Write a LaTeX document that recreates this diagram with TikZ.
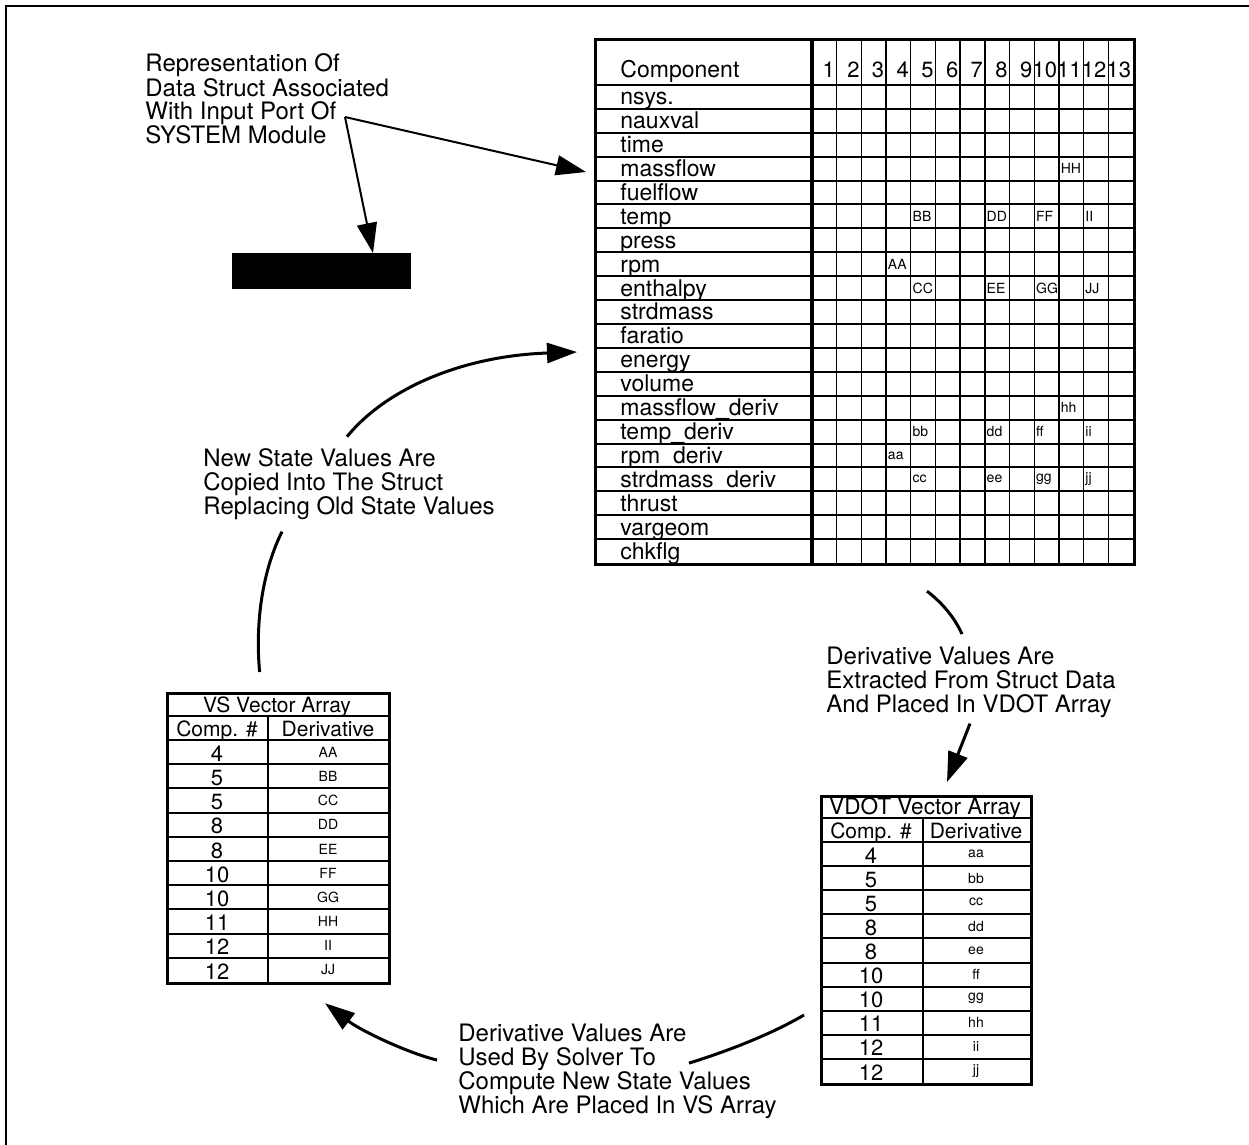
\documentclass[tikz,border=0pt]{standalone}
\usepackage{fontspec}
\setmainfont{TeX Gyre Heros}
\usetikzlibrary{arrows.meta, positioning, calc}
\tikzstyle{note} = [align=left, anchor=base west, inner sep=0pt, font=\fontsize{12}{12}\selectfont]
\tikzstyle{bigcell} = [inner sep=0pt, font=\fontsize{11.5}{12}\selectfont]
\tikzstyle{numcell} = [inner sep=0pt, anchor=base, font=\fontsize{11}{12}\selectfont]
\tikzstyle{headcell} = [inner sep=0pt, anchor=base, font=\fontsize{10.5}{12}\selectfont]
\tikzstyle{smallcell} = [inner sep=0pt, font=\fontsize{7}{8}\selectfont]
\tikzstyle{tableframe} = [rectangle, draw=black, line width=1.6pt, inner sep=0pt, anchor=north west]
\tikzstyle{rule} = [line width=1pt]
\tikzstyle{thinrule} = [line width=0.7pt]
\tikzstyle{arrow} = [line width=1pt, -{Triangle[length=15pt, width=10pt]}]
\tikzstyle{sweep} = [line width=1.5pt]
\tikzstyle{sweeparrow} = [line width=1.5pt, -{Triangle[length=15pt, width=10pt]}]

\begin{document}
\begin{tikzpicture}[x=0.5pt, y=-0.5pt]
\useasboundingbox (0,0) rectangle (1249,1145);

% Frame
\draw [line width=1pt] (6,1145) -- (6,6) -- (1249,6);

% Struct table
\node (struct) [tableframe, minimum width=269.5pt, minimum height=262.5pt] at (594,38) {};
\draw [line width=1.6pt] (812,38) -- (812,563);
\foreach \k in {1,...,12}
  \draw [thinrule] ({812+24.69*\k},38) -- ({812+24.69*\k},563);
\foreach \j in {0,...,19}
  \draw [rule] (594,{85+23.9*\j}) -- (1133,{85+23.9*\j});
\node (comphead) [bigcell, anchor=base west] at (620,78) {Component};
\foreach \k in {1,...,13}
  \node (col\k) [numcell, anchor=base east] at ({812+24.69*\k-1.5},78) {\k};
\foreach \lab [count=\j] in {nsys., nauxval, time, massflow, fuelflow, temp, press, rpm, enthalpy, strdmass, faratio, energy, volume, massflow\_deriv, temp\_deriv, rpm\_deriv, strdmass\_deriv, thrust, vargeom, chkflg}
  \node (row\j) [bigcell, anchor=base west] at (620,{81+23.9*\j}) {\lab};
\foreach \c/\r/\v in {11/4/HH, 5/6/BB, 8/6/DD, 10/6/FF, 12/6/II, 4/8/AA, 5/9/CC, 8/9/EE, 10/9/GG, 12/9/JJ, 11/14/hh, 5/15/bb, 8/15/dd, 10/15/ff, 12/15/ii, 4/16/aa, 5/17/cc, 8/17/ee, 10/17/gg, 12/17/jj}
  \node (cell\c-\r) [smallcell, anchor=west] at ({813.5+24.69*(\c-1)},{73+23.9*\r}) {\v};

% Port bar
\node (sysport) [fill=black, inner sep=0pt, minimum width=89.5pt, minimum height=18pt, anchor=north west] at (232,253) {};

% VS table
\node (vsarray) [tableframe, minimum width=111pt, minimum height=145pt] at (166,692) {};
\draw [rule] (166,716) -- (388,716);
\foreach \i in {0,...,9}
  \draw [rule] (166,{740+24.2*\i}) -- (388,{740+24.2*\i});
\draw [rule] (268,716) -- (268,982);
\node (vstitle) [headcell] at (277,712) {VS Vector Array};
\node (vscomp) [headcell] at (217,736) {Comp. \#};
\node (vsderiv) [headcell] at (328,736) {Derivative};
\foreach \n/\v [count=\i] in {4/AA, 5/BB, 5/CC, 8/DD, 8/EE, 10/FF, 10/GG, 11/HH, 12/II, 12/JJ} {
  \node (vsnum\i) [numcell] at (217,{740+24.2*\i-3}) {\n};
  \node (vsval\i) [smallcell] at (328,{740+24.2*(\i-0.5)}) {\v};
}

% VDOT table
\node (vdot) [tableframe, minimum width=105pt, minimum height=144pt] at (820,795) {};
\draw [rule] (820,818) -- (1030,818);
\foreach \i in {0,...,9}
  \draw [rule] (820,{842+24.1*\i}) -- (1030,{842+24.1*\i});
\draw [rule] (923,818) -- (923,1083);
\node (vdottitle) [headcell, font=\fontsize{11.3}{12}\selectfont] at (925,814) {VDOT Vector Array};
\node (vdotcomp) [headcell] at (871,838) {Comp. \#};
\node (vdotderiv) [headcell] at (976,838) {Derivative};
\foreach \n/\v [count=\i] in {4/aa, 5/bb, 5/cc, 8/dd, 8/ee, 10/ff, 10/gg, 11/hh, 12/ii, 12/jj} {
  \node (vdotnum\i) [numcell] at (871,{842+24.1*\i-3}) {\n};
  \node (vdotval\i) [smallcell] at (976,{842+24.1*(\i-0.5)}) {\v};
}

% Notes
\node (repnote) [note] at (145,144) {Representation Of\\Data Struct Associated\\With Input Port Of\\SYSTEM Module};
\node (newstate) [note] at (203,514) {New State Values Are\\Copied Into The Struct\\Replacing Old State Values};
\node (extract) [note] at (826,712) {Derivative Values Are\\Extracted From Struct Data\\And Placed In VDOT Array};
\node (solver) [note] at (458,1113) {Derivative Values Are\\Used By Solver To\\Compute New State Values\\Which Are Placed In VS Array};
\coordinate (repfork) at (345,117);

% Arrows
\draw [arrow] (repfork) -- ($(struct.north west)+(-8,134)$);
\draw [arrow] (repfork) -- (sysport.north -| 373,0);
\draw [sweeparrow] ($(newstate.north west)+(144,-11)$) .. controls (385,390) and (460,356) .. ($(struct.north west)+(-17,314)$);
\draw [sweep] ($(vsarray.north)+(-19,-20)$) .. controls (255,620) and (263,570) .. ($(newstate.south west)+(79,12)$);
\draw [sweep] ($(struct.south west)+(333,25)$) .. controls (940,601) and (954,616) .. ($(extract.north west)+(136,-12)$);
\draw [sweeparrow] ($(extract.south west)+(144,6)$) -- ($(vdot.north west)+(127,-13)$);
\draw [sweep] ($(vdot.north west)+(-16,220)$) .. controls (770,1035) and (725,1052) .. ($(solver.north west)+(231,40)$);
\draw [sweeparrow] ($(solver.north west)+(-21,37)$) .. controls (405,1052) and (360,1030) .. ($(vsarray.south west)+(159,18)$);

\end{tikzpicture}
\end{document}
